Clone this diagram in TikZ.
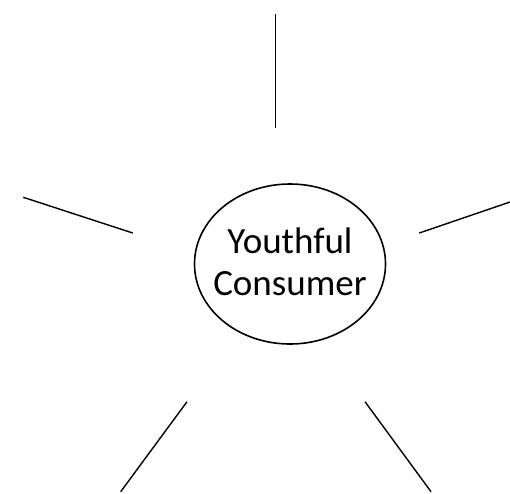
\documentclass[tikz,border=0pt]{standalone}
\usepackage{fontspec}
\setmainfont{Carlito}
\usetikzlibrary{shapes.geometric}
\tikzset{
    % centre ellipse style
    hub/.style = {draw, ellipse, line width=1.6pt, inner sep=0pt, minimum width=191pt, minimum height=160pt},
    % centre label style
    hub text/.style = {align=center, inner sep=0pt, font=\fontsize{37}{42}\selectfont},
    % spoke line style
    spoke/.style = {line width=1.4pt}
}

\begin{document}
\begin{tikzpicture}[x=1pt, y=-1pt]
        \useasboundingbox (0, 0) rectangle (510, 493);
        % central ellipse and its label
        \node[hub] (consumer) at (290, 264) {};
        \node[hub text, yshift=2pt] (consumer text) at (consumer.center) {Youthful\\Consumer};
        % spoke end points
        \coordinate (top in) at (275.7, 128.3);
        \coordinate (top out) at (275.7, 14);
        \coordinate (left in) at (132.7, 233);
        \coordinate (left out) at (23.3, 197.3);
        \coordinate (right in) at (419.3, 233);
        \coordinate (right out) at (510, 202);
        \coordinate (lower left in) at (187, 401.7);
        \coordinate (lower left out) at (120.7, 491.7);
        \coordinate (lower right in) at (365, 401.7);
        \coordinate (lower right out) at (431, 491.7);
        % draw spokes
        \draw[spoke] (top in) -- (top out);
        \draw[spoke] (left in) -- (left out);
        \draw[spoke] (right in) -- (right out);
        \draw[spoke] (lower left in) -- (lower left out);
        \draw[spoke] (lower right in) -- (lower right out);
    \end{tikzpicture}
\end{document}
